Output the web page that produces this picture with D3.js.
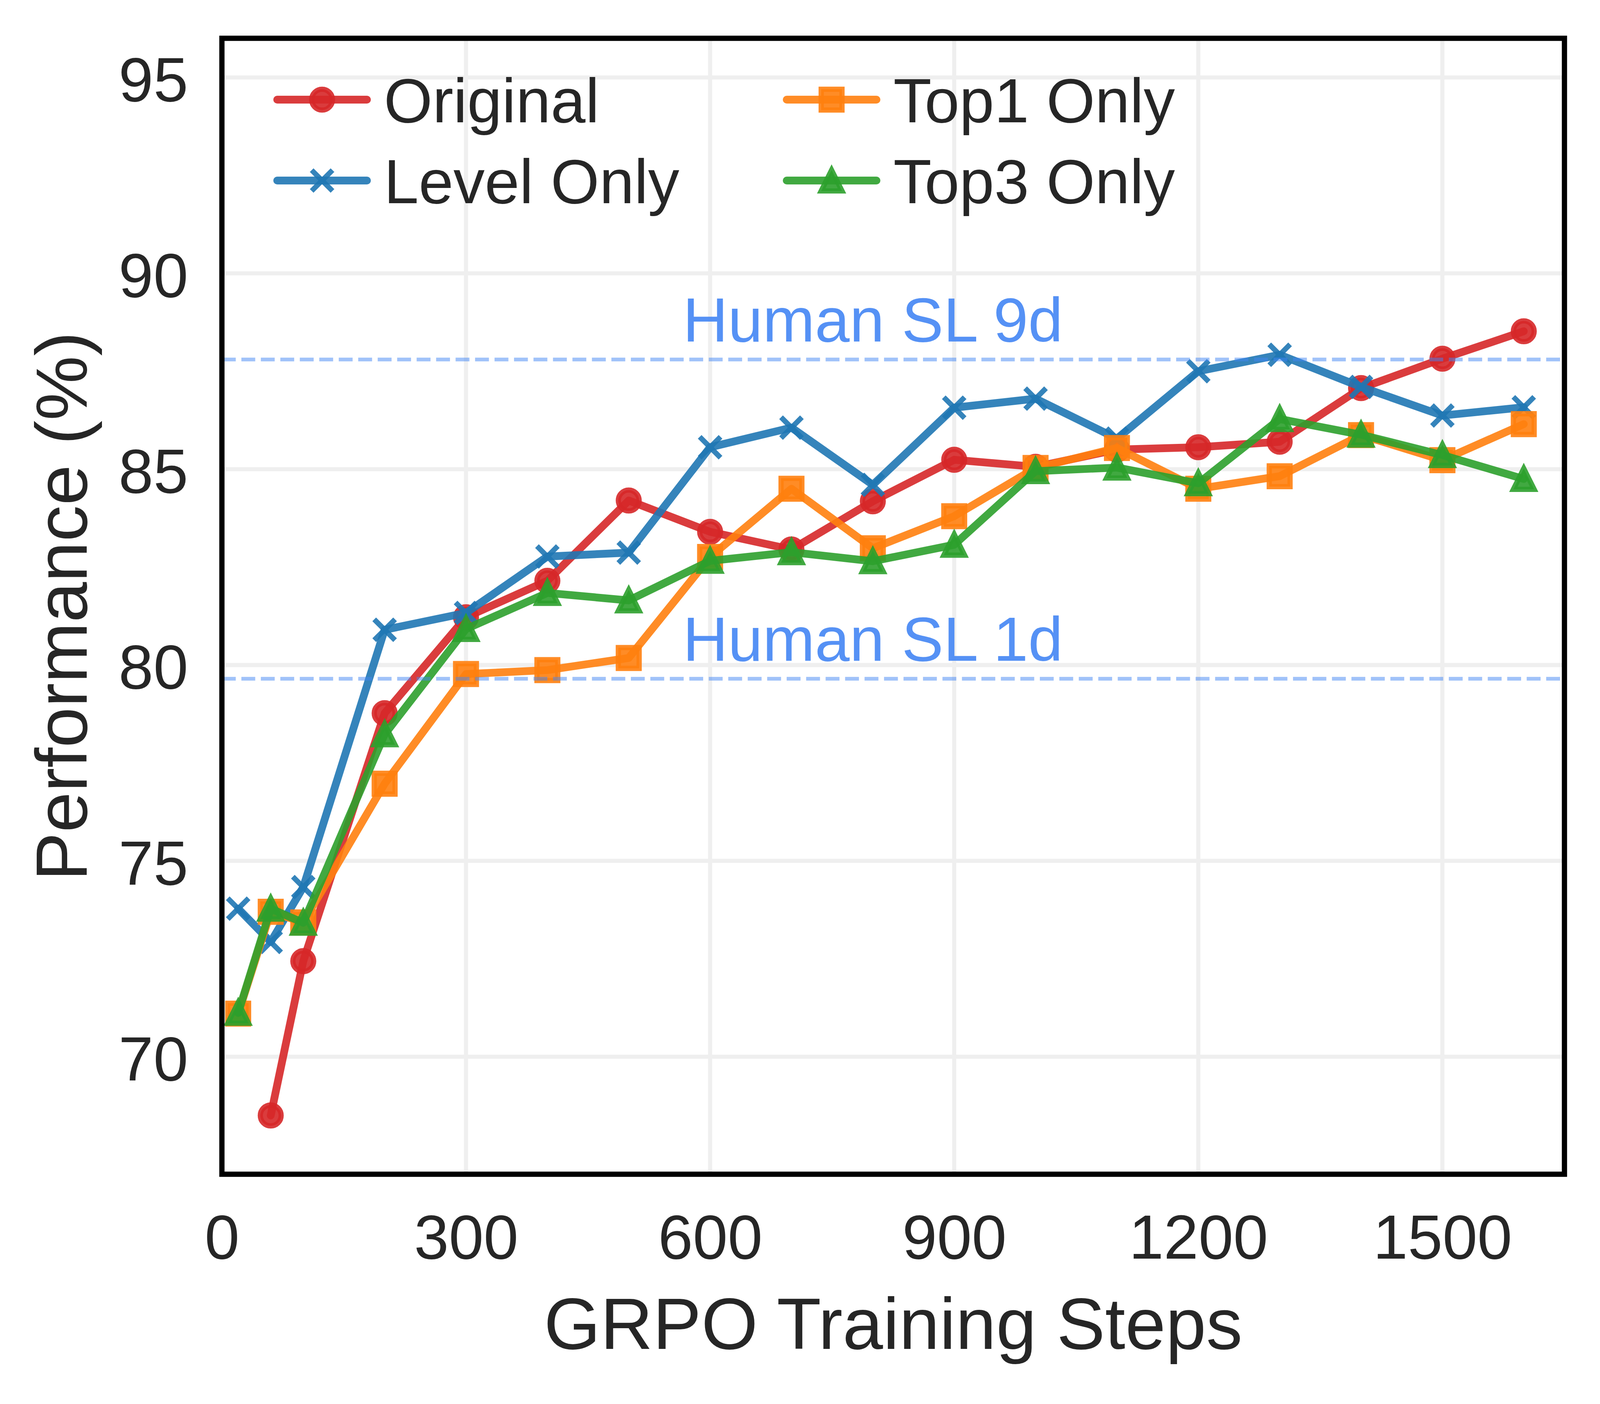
<!DOCTYPE html>
<html>
<head>
<meta charset="utf-8">
<script src="https://cdn.jsdelivr.net/npm/d3@7"></script>
<style>
  html, body { margin: 0; padding: 0; background: #ffffff; overflow: hidden; width: 100%; height: 100%; }
  svg { display: block; }
  text { font-family: "Liberation Sans", Arial, Helvetica, sans-serif; }
</style>
</head>
<body>
<svg id="chart"></svg>
<script>
// ---------------- DATA ----------------
const steps = [20, 60, 100, 200, 300, 400, 500, 600, 700, 800, 900, 1000, 1100, 1200, 1300, 1400, 1500, 1600];
const originalValues = [null, 68.5, 72.44, 78.77, 81.22, 82.15, 84.2, 83.4, 82.95, 84.18, 85.24, 85.06, 85.5, 85.56, 85.7, 87.07, 87.82, 88.52];
const levelOnlyValues = [73.78, 72.93, 74.33, 80.9, 81.33, 82.77, 82.87, 85.56, 86.06, 84.6, 86.57, 86.8, 85.78, 87.5, 87.92, 87.1, 86.37, 86.58];
const top1OnlyValues = [71.1, 73.7, 73.43, 76.97, 79.77, 79.87, 80.18, 82.76, 84.5, 82.98, 83.8, 85.03, 85.54, 84.5, 84.82, 85.87, 85.23, 86.15];
const top3OnlyValues = [71.12, 73.78, 73.42, 78.23, 80.92, 81.84, 81.65, 82.66, 82.88, 82.65, 83.07, 84.95, 85.04, 84.64, 86.28, 85.88, 85.36, 84.75];
const seriesNames = ["Original", "Level Only", "Top1 Only", "Top3 Only"];
const seriesValues = [originalValues, levelOnlyValues, top1OnlyValues, top3OnlyValues];
const xTicks = [0, 300, 600, 900, 1200, 1500];
const yTicks = [70, 75, 80, 85, 90, 95];
const xDomain = [0, 1650];
const yDomain = [67, 96];
const humanLevels = [87.8, 79.65];
const humanLabels = ["Human SL 9d", "Human SL 1d"];
const humanLabelStep = 800;

// ---------------- LAYOUT / STYLE ----------------
// Layout designed on a 4456 x 3593 canvas, mapped onto the real viewport.
const BW = 4456, BH = 3593;
const VW = window.innerWidth || BW, VH = window.innerHeight || BH;
const sx = VW / BW, sy = VH / BH, k = Math.sqrt(sx * sy);
const px = v => v * sx, py = v => v * sy;

const colors = ["#d62728", "#1f77b4", "#ff7f0e", "#2ca02c"];
const markers = ["circle", "x", "square", "triangle"];
const textColor = "#262626";
const refColor = "#4285F4";
const plot = { left: 618, top: 98, right: 4357, bottom: 3005 };
const lineW = 20.8 * k, ms = 55.6 * k, mew = 13.9 * k, alpha = 0.9;
const fsTick = 167 * k, fsLabel = 194 * k;

const svg = d3.select("#chart").attr("width", VW).attr("height", VH);
const x = d3.scaleLinear().domain(xDomain).range([px(plot.left), px(plot.right)]);
const y = d3.scaleLinear().domain(yDomain).range([py(plot.bottom), py(plot.top)]);

svg.append("rect").attr("x", 0).attr("y", 0).attr("width", VW).attr("height", VH).attr("fill", "#ffffff");

// grid
const grid = svg.append("g");
grid.selectAll("line.gx").data(xTicks).join("line")
  .attr("x1", d => x(d)).attr("x2", d => x(d))
  .attr("y1", y(yDomain[0])).attr("y2", y(yDomain[1]))
  .attr("stroke", "#efefef").attr("stroke-width", 11 * k);
grid.selectAll("line.gy").data(yTicks).join("line")
  .attr("x1", x(xDomain[0])).attr("x2", x(xDomain[1]))
  .attr("y1", d => y(d)).attr("y2", d => y(d))
  .attr("stroke", "#efefef").attr("stroke-width", 11 * k);

// markers
function markerPath(type) {
  const h = ms / 2;
  if (type === "triangle") return `M0,${-h}L${-h},${h}L${h},${h}Z`;
  if (type === "square") return `M${-h},${-h}L${h},${-h}L${h},${h}L${-h},${h}Z`;
  if (type === "x") return `M${-h},${-h}L${h},${h}M${-h},${h}L${h},${-h}`;
  return null;
}
function drawMarker(g, type, color, cx, cy) {
  if (type === "circle") {
    g.append("circle").attr("cx", cx).attr("cy", cy).attr("r", ms / 2)
      .attr("fill", color).attr("fill-opacity", alpha)
      .attr("stroke", color).attr("stroke-opacity", alpha).attr("stroke-width", mew);
  } else if (type === "x") {
    g.append("path").attr("transform", `translate(${cx},${cy})`).attr("d", markerPath(type))
      .attr("fill", "none").attr("stroke", color).attr("stroke-opacity", alpha)
      .attr("stroke-width", mew).attr("stroke-linecap", "butt");
  } else {
    g.append("path").attr("transform", `translate(${cx},${cy})`).attr("d", markerPath(type))
      .attr("fill", color).attr("fill-opacity", alpha)
      .attr("stroke", color).attr("stroke-opacity", alpha).attr("stroke-width", mew)
      .attr("stroke-linejoin", "miter").attr("stroke-miterlimit", 10);
  }
}

// series
const line = d3.line().defined(d => d.v != null).x(d => x(d.s)).y(d => y(d.v));
seriesValues.forEach((vals, i) => {
  const pts = steps.map((s, j) => ({ s, v: vals[j] }));
  const g = svg.append("g");
  g.append("path").datum(pts).attr("d", line)
    .attr("fill", "none").attr("stroke", colors[i]).attr("stroke-opacity", alpha)
    .attr("stroke-width", lineW).attr("stroke-linejoin", "round").attr("stroke-linecap", "round");
  pts.filter(d => d.v != null).forEach(d => drawMarker(g, markers[i], colors[i], x(d.s), y(d.v)));
});

// human reference lines
humanLevels.forEach((lv, i) => {
  svg.append("line")
    .attr("x1", x(xDomain[0])).attr("x2", x(xDomain[1]))
    .attr("y1", y(lv)).attr("y2", y(lv))
    .attr("stroke", refColor).attr("stroke-opacity", 0.5)
    .attr("stroke-width", 10 * k).attr("stroke-dasharray", `${37 * k},${15 * k}`);
  svg.append("text")
    .attr("x", x(humanLabelStep)).attr("y", y(lv) - py(46))
    .attr("text-anchor", "middle").attr("font-size", fsTick)
    .attr("fill", refColor).attr("fill-opacity", 0.9)
    .text(humanLabels[i]);
});

// axes
const xAxis = d3.axisBottom(x).tickValues(xTicks).tickSize(0).tickPadding(py(216) - 0.71 * fsTick).tickFormat(d3.format("d"));
const gx = svg.append("g").attr("transform", `translate(0,${y(yDomain[0])})`).call(xAxis);
gx.select(".domain").remove();
gx.selectAll("text").attr("font-size", fsTick).attr("fill", textColor)
  .attr("font-family", "'Liberation Sans', Arial, sans-serif");

const yAxis = d3.axisLeft(y).tickValues(yTicks).tickSize(0).tickPadding(px(94)).tickFormat(d3.format("d"));
const gy = svg.append("g").attr("transform", `translate(${x(xDomain[0])},0)`).call(yAxis);
gy.select(".domain").remove();
gy.selectAll("text").attr("font-size", fsTick).attr("fill", textColor).attr("dy", "0.375em")
  .attr("font-family", "'Liberation Sans', Arial, sans-serif");

// axis labels
svg.append("text")
  .attr("x", (x(xDomain[0]) + x(xDomain[1])) / 2).attr("y", py(3452))
  .attr("text-anchor", "middle").attr("font-size", fsLabel).attr("fill", textColor)
  .text("GRPO Training Steps");
svg.append("text")
  .attr("transform", `translate(${px(242)},${(y(yDomain[0]) + y(yDomain[1])) / 2}) rotate(-90)`)
  .attr("text-anchor", "middle").attr("font-size", fsLabel).attr("fill", textColor)
  .text("Performance (%)");

// border
svg.append("rect")
  .attr("x", x(xDomain[0])).attr("y", y(yDomain[1]))
  .attr("width", x(xDomain[1]) - x(xDomain[0])).attr("height", y(yDomain[0]) - y(yDomain[1]))
  .attr("fill", "none").attr("stroke", "#000").attr("stroke-width", 14 * k);

// legend (2 columns, filled column-wise)
const legCols = [897, 2316];
const legRows = [255, 462];
seriesNames.forEach((name, i) => {
  const cx = px(legCols[Math.floor(i / 2)]), cy = py(legRows[i % 2]);
  const g = svg.append("g");
  g.append("line").attr("x1", cx - px(125)).attr("x2", cx + px(125)).attr("y1", cy).attr("y2", cy)
    .attr("stroke", colors[i]).attr("stroke-opacity", alpha).attr("stroke-width", lineW)
    .attr("stroke-linecap", "round");
  drawMarker(g, markers[i], colors[i], cx, cy);
  g.append("text").attr("x", cx + px(172)).attr("y", cy + 0.36 * fsTick)
    .attr("font-size", fsTick).attr("fill", textColor).text(name);
});
</script>
</body>
</html>
